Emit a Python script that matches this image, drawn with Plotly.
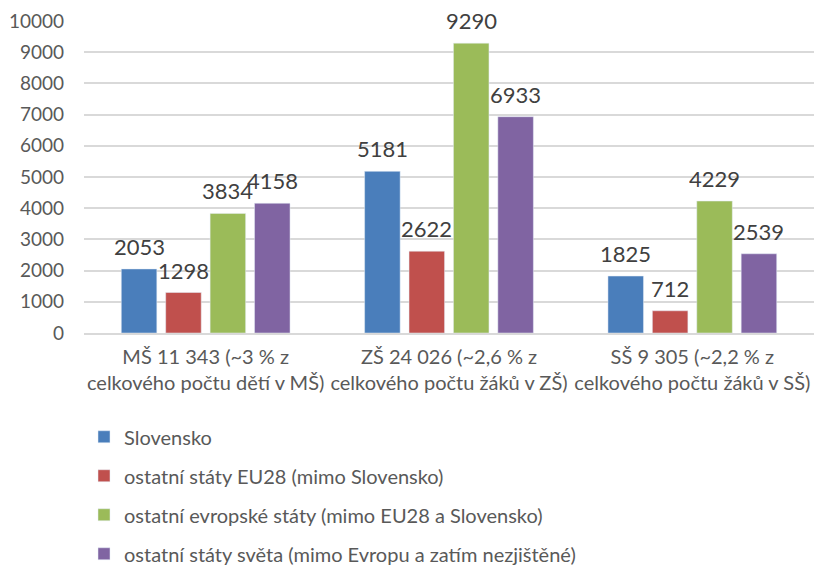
import plotly.graph_objects as go

categories = ["MŠ 11 343 (~3 % z<br>celkového počtu dětí v MŠ)",
              "ZŠ 24 026 (~2,6 % z<br>celkového počtu žáků v ZŠ)",
              "SŠ 9 305 (~2,2 % z<br>celkového počtu žáků v SŠ)"]
series_names = ["Slovensko",
                "ostatní státy EU28 (mimo Slovensko)",
                "ostatní evropské státy (mimo EU28 a Slovensko)",
                "ostatní státy světa (mimo Evropu a zatím nezjištěné)"]
slovensko = [2053, 5181, 1825]
eu28 = [1298, 2622, 712]
evropa = [3834, 9290, 4229]
svet = [4158, 6933, 2539]
colors = ["#4a7ebb", "#c0504d", "#9bbb59", "#8064a2"]
y_ticks = [0, 1000, 2000, 3000, 4000, 5000, 6000, 7000, 8000, 9000, 10000]
y_tick_text = [str(v) for v in y_ticks]

FONT = "Lato, Open Sans, sans-serif"
BARGAP = 0.27
all_series = [slovensko, eu28, evropa, svet]
n_series = len(all_series)

fig = go.Figure()
for i, (name, vals) in enumerate(zip(series_names, all_series)):
    fig.add_trace(go.Bar(
        x=categories, y=vals, name=name, marker_color=colors[i],
        legendgroup=str(i),
    ))

# value labels placed above bars via axis coordinates (category index + group offset)
slot = (1 - BARGAP) / n_series
for i, vals in enumerate(all_series):
    for ci, v in enumerate(vals):
        fig.add_annotation(
            x=ci + (i - (n_series - 1) / 2) * slot, y=v, xref="x", yref="y",
            text=str(v), showarrow=False, yanchor="bottom", yshift=10, height=22,
            font=dict(size=22, color="#404040", family=FONT),
        )

fig.update_layout(
    width=806, height=561,
    margin=dict(l=76, r=0, t=13, b=236, autoexpand=False),
    plot_bgcolor="white", paper_bgcolor="white",
    barmode="group", bargap=BARGAP, bargroupgap=0.2,
    font=dict(family=FONT, size=20, color="#595959"),
    showlegend=True,
    legend=dict(orientation="v", x=0.0, xanchor="left", y=-0.27, yanchor="top",
                font=dict(size=20, color="#595959", family=FONT),
                tracegroupgap=10, itemwidth=30),
)
fig.update_yaxes(range=[0, 10000], tickvals=y_ticks, ticktext=y_tick_text,
                 showgrid=True, gridcolor="#d9d9d9",
                 gridwidth=1.5, zeroline=False, showline=False, automargin=False,
                 tickfont=dict(size=19, color="#595959"), ticklabelstandoff=19)
fig.update_xaxes(showline=True, linecolor="#d9d9d9", linewidth=1.5, automargin=False,
                 tickfont=dict(size=20, color="#595959"), ticks="", ticklabelstandoff=5)
fig.write_html("out.html")
